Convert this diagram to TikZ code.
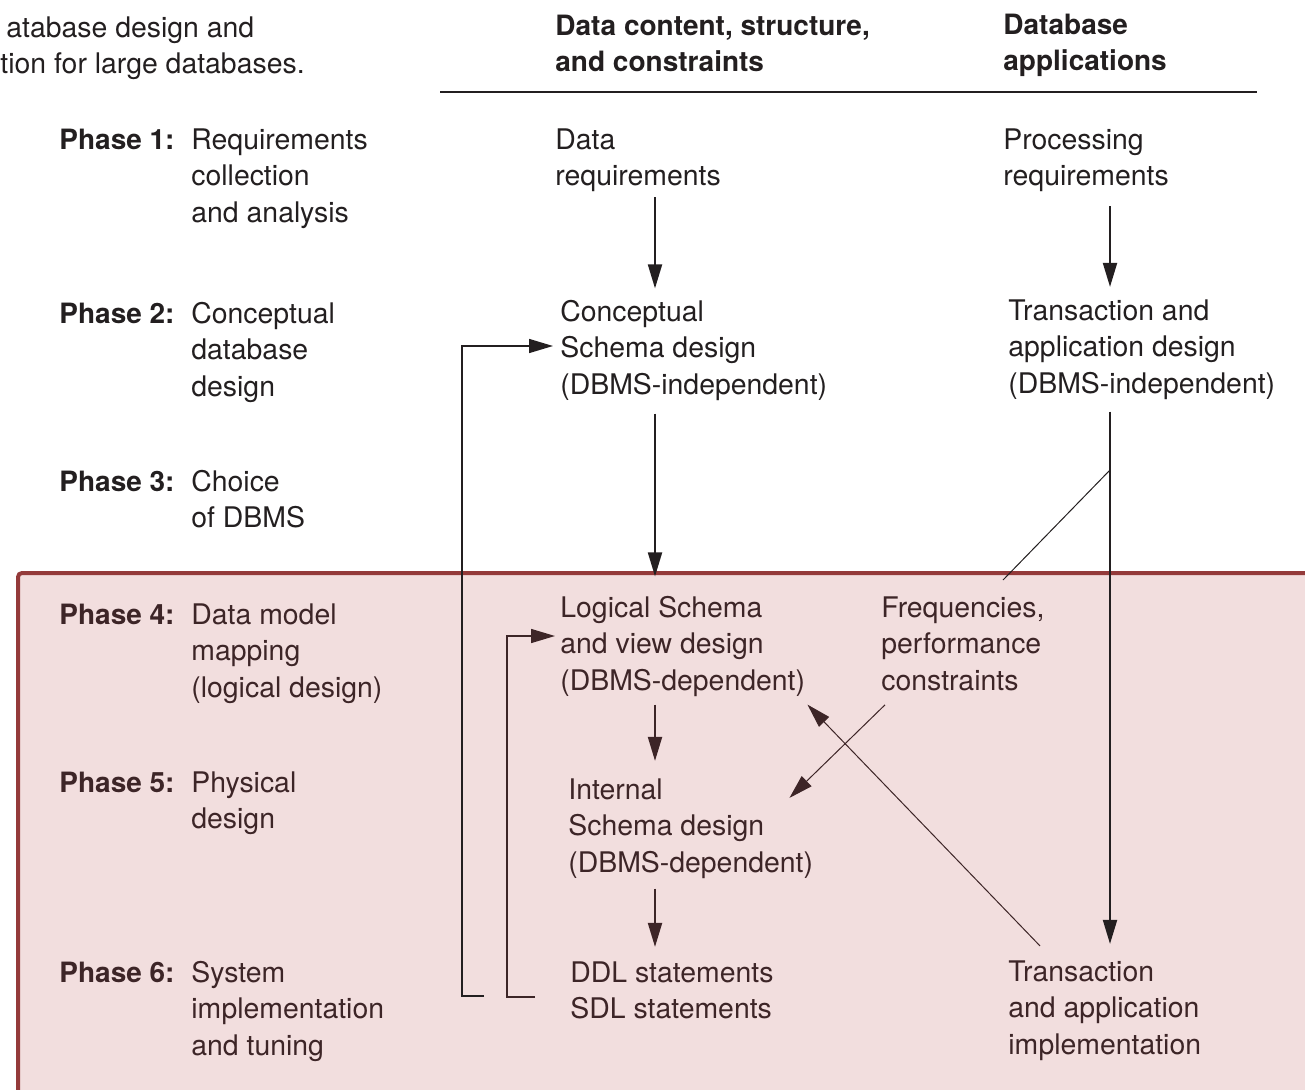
\documentclass[tikz,border=0pt]{standalone}
\usepackage{fontspec}
\setmainfont{TeX Gyre Heros}
\usetikzlibrary{arrows.meta}
\definecolor{inkgray}{HTML}{231F20}
\definecolor{inkbrown}{HTML}{3D2527}
\definecolor{phasered}{HTML}{943A3A}
\definecolor{phasepink}{HTML}{F2DEDE}
\tikzset{
  txt/.style={anchor=base west,inner sep=0pt,align=left,text=inkgray,
    font=\fontsize{14.2}{18.25}\selectfont},
  phaselbl/.style={txt,font=\fontsize{14}{18.25}\selectfont\bfseries},
  flow/.style={line width=1pt,draw=inkgray,-{Triangle[length=12pt,width=7pt]}},
  back/.style={flow,line width=0.75pt},
  slim/.style={line width=0.5pt,draw=inkgray},
}
\begin{document}
\begin{tikzpicture}[x=0.5pt,y=-0.5pt,line join=miter]
\useasboundingbox (0,0) rectangle (1305,1089);
\clip (0,0) rectangle (1305,1089);
% the shaded block for phases 4 to 6
\draw[phasered,line width=2pt,fill=phasepink,rounded corners=2pt] (18,573) rectangle (1340,1120);

% caption, cut at the left edge
\node[txt] (cap1) at (6,37) {atabase design and};
\node[txt] (cap2) at (0,73) {tion for large databases.};

% column heads (nodes sit on the baseline of their last line)
\node[phaselbl] (hdcontent) at (555,71.5) {Data content, structure,\\and constraints};
\node[phaselbl] (hdapps) at (1003,70.5) {Database\\applications};
\draw[line width=0.75pt,inkgray] (440,92) -- (1257,92);

% phases 1--3
\node[phaselbl] (ph1) at (59,149) {Phase 1:};
\node[txt] (ph1txt) at (191,222) {Requirements\\collection\\and analysis};
\node[phaselbl] (ph2) at (59,323) {Phase 2:};
\node[txt] (ph2txt) at (191,396) {Conceptual\\database\\design};
\node[phaselbl] (ph3) at (59,491) {Phase 3:};
\node[txt] (ph3txt) at (191,527.5) {Choice\\of DBMS};

\node[txt] (datareq) at (555,185.5) {Data\\requirements};
\node[txt] (concept) at (560,394) {Conceptual\\Schema design\\(DBMS-independent)};
\node[txt] (procreq) at (1003,185.5) {Processing\\requirements};
\node[txt] (trdesign) at (1008,393) {Transaction and\\application design\\(DBMS-independent)};

% phases 4--6
\begin{scope}[txt/.append style={text=inkbrown},flow/.append style={draw=inkbrown},
  slim/.append style={draw=inkbrown}]
\node[phaselbl] (ph4) at (59,624) {Phase 4:};
\node[txt] (ph4txt) at (191,697) {Data model\\mapping\\(logical design)};
\node[phaselbl] (ph5) at (59,792) {Phase 5:};
\node[txt] (ph5txt) at (191,828.5) {Physical\\design};
\node[phaselbl] (ph6) at (59,982) {Phase 6:};
\node[txt] (ph6txt) at (191,1055) {System\\implementation\\and tuning};

\node[txt] (logical) at (560,690) {Logical Schema\\and view design\\(DBMS-dependent)};
\node[txt] (internal) at (568,872) {Internal\\Schema design\\(DBMS-dependent)};
\node[txt] (ddl) at (570,1018.5) {DDL statements\\SDL statements};
\node[txt] (freq) at (881,690) {Frequencies,\\performance\\constraints};
\node[txt] (trimpl) at (1008,1054) {Transaction\\and application\\implementation};

\coordinate (colmid) at (655,0);
\draw[flow,shorten <=4pt,shorten >=8.5pt] (logical.south -| colmid) -- (internal.north -| colmid);
\draw[flow,shorten <=5pt,shorten >=7pt] (internal.south -| colmid) -- (ddl.north -| colmid);
\draw[slim,-{Triangle[length=12pt,width=7pt]}] ([xshift=2pt,yshift=-7pt]freq.south west)
  -- ([xshift=-12pt,yshift=-10pt]internal.north east);
\draw[slim,-{Triangle[length=12pt,width=7pt]}] ([xshift=16pt,yshift=7pt]trimpl.north west)
  -- ([xshift=1pt,yshift=-4pt]logical.south east);
\draw[back] ([xshift=-17.5pt,yshift=-3.5pt]ddl.west) -| ([xshift=-26.5pt,yshift=5pt]logical.west)
  -- ([xshift=-2.5pt,yshift=5pt]logical.west);
\end{scope}

% connectors through both parts
\coordinate (colright) at (1110,0);
\coordinate (branch) at (1110,470);
\coordinate (freqin) at (1003,580);
\draw[flow,shorten <=2.5pt,shorten >=5.5pt] (datareq.south -| colmid) -- (concept.north -| colmid);
\draw[flow,shorten <=6.5pt,shorten >=9.5pt] (concept.south -| colmid) -- (logical.north -| colmid);
\draw[flow,shorten <=7pt,shorten >=6pt] (procreq.south -| colright) -- (trdesign.north -| colright);
\draw[flow,shorten <=6pt,shorten >=8pt] (trdesign.south -| colright) -- (trimpl.north -| colright);
\draw[slim] (branch) -- (freqin);
\draw[back] ([xshift=-43pt,yshift=-3pt]ddl.west) -| ([xshift=-49pt,yshift=2pt]concept.west)
  -- ([xshift=-3.5pt,yshift=2pt]concept.west);
\end{tikzpicture}
\end{document}
